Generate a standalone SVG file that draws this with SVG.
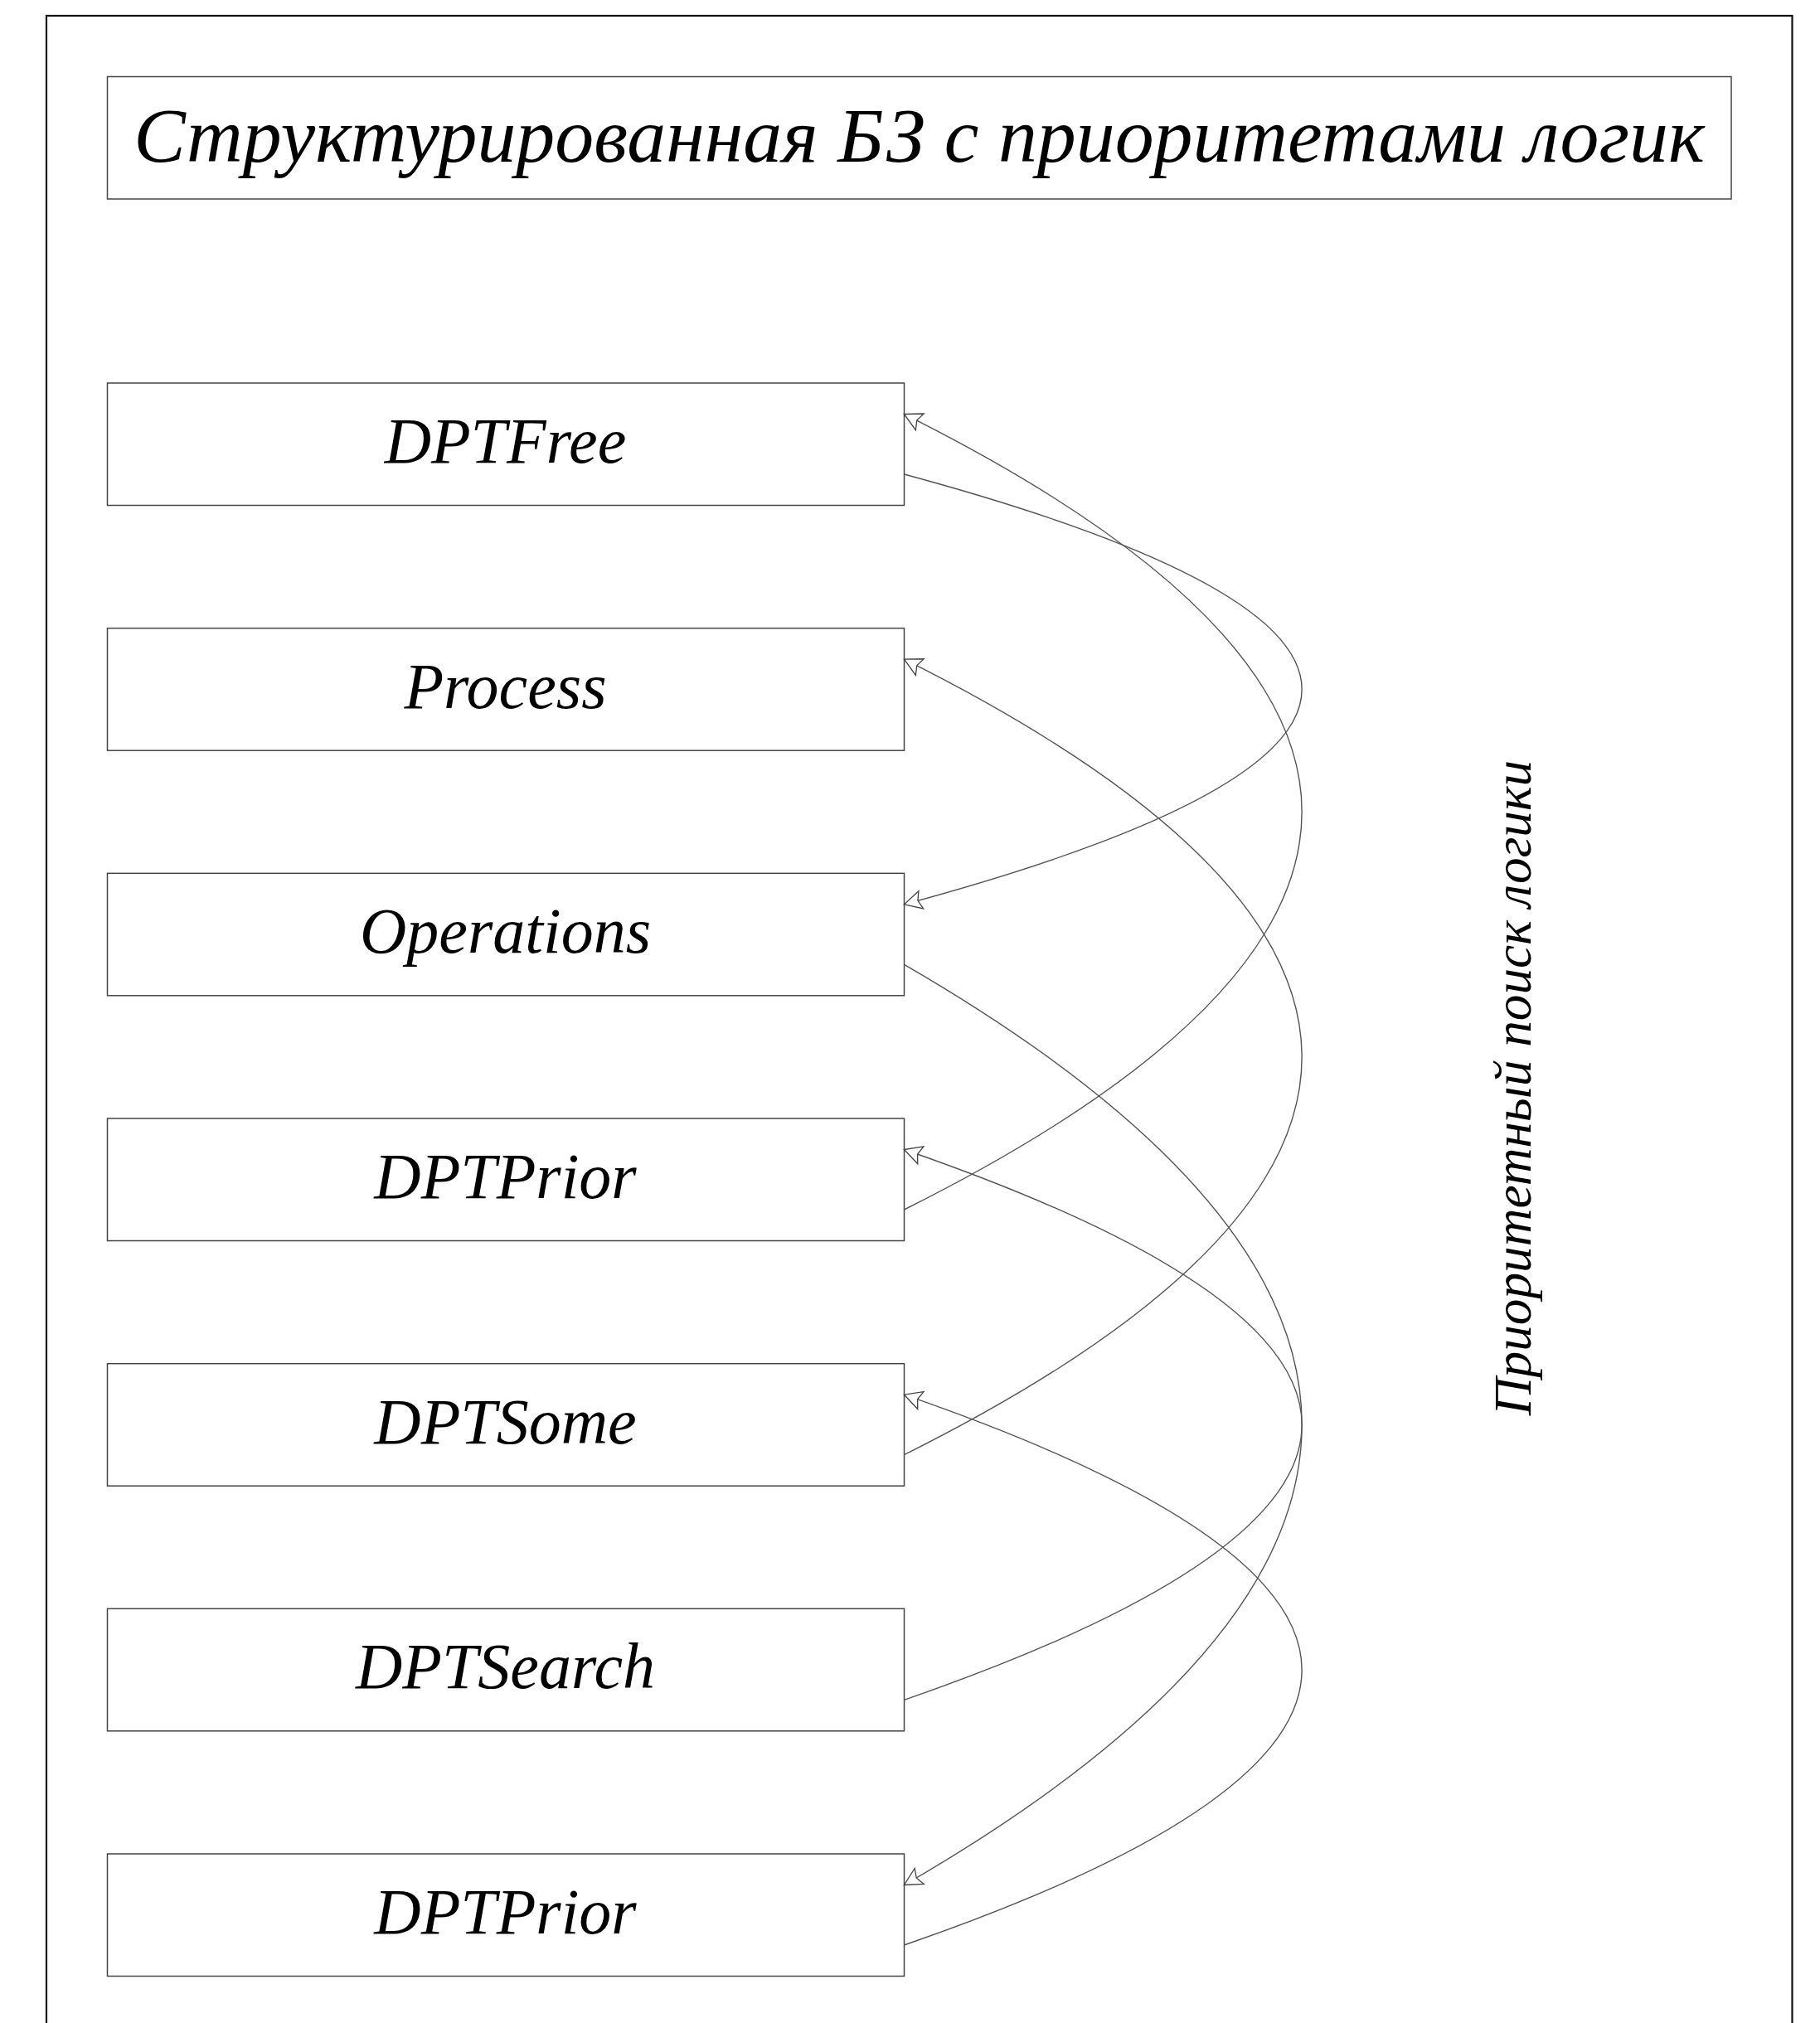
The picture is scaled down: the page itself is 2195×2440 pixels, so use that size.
<svg xmlns="http://www.w3.org/2000/svg" width="2195" height="2440" viewBox="0 0 2195 2440">
<style>
.frame{fill:none;stroke:#111;stroke-width:2.2}
.box{fill:#fff;stroke:#444;stroke-width:1.5}
.lbl{font-family:"Liberation Serif","Times New Roman",serif;font-style:italic;fill:#000;text-anchor:middle}
.node{font-size:78px}
.conn{fill:none;stroke:#555;stroke-width:1.4}
</style>
<defs>
<marker id="arr" viewBox="-25 -15 30 30" markerWidth="30" markerHeight="30" refX="0" refY="0" orient="auto" markerUnits="userSpaceOnUse">
<path d="M0,0 L-21,-11 L-17,0 L-21,11 Z" fill="#fff" stroke="#444" stroke-width="1.3" stroke-linejoin="miter"/>
</marker>
</defs>
<rect width="2195" height="2440" fill="#fff"/>
<rect class="frame" x="56" y="19" width="2105.5" height="2460"/>
<g id="title">
<rect class="box" x="129.5" y="92.5" width="1958.5" height="147.5"/>
<text class="lbl" x="1108.5" y="195" font-size="93.8">Структурированная БЗ с приоритетами логик</text>
</g>
<g id="n_dptfree">
<rect class="box" x="129.5" y="462" width="961" height="147.5"/>
<text class="lbl node" x="609.5" y="558">DPTFree</text>
</g>
<g id="n_process">
<rect class="box" x="129.5" y="757.7" width="961" height="147.5"/>
<text class="lbl node" x="609.5" y="853.7">Process</text>
</g>
<g id="n_operations">
<rect class="box" x="129.5" y="1053.3" width="961" height="147.5"/>
<text class="lbl node" x="609.5" y="1149.3">Operations</text>
</g>
<g id="n_dptprior1">
<rect class="box" x="129.5" y="1349" width="961" height="147.5"/>
<text class="lbl node" x="609.5" y="1445">DPTPrior</text>
</g>
<g id="n_dptsome">
<rect class="box" x="129.5" y="1644.7" width="961" height="147.5"/>
<text class="lbl node" x="609.5" y="1740.7">DPTSome</text>
</g>
<g id="n_dptsearch">
<rect class="box" x="129.5" y="1940.3" width="961" height="147.5"/>
<text class="lbl node" x="609.5" y="2036.3">DPTSearch</text>
</g>
<g id="n_dptprior2">
<rect class="box" x="129.5" y="2236" width="961" height="147.5"/>
<text class="lbl node" x="609.5" y="2332">DPTPrior</text>
</g>
<g id="side_label">
<text class="lbl" x="0" y="0" font-size="63.3" transform="translate(1846,1312) rotate(-90)">Приоритетный поиск логики</text>
</g>
<g id="connectors">
<path class="conn" marker-end="url(#arr)" d="M1090.5,572 C1730,744.9 1730,917.9 1090.5,1090.8"/>
<path class="conn" marker-end="url(#arr)" d="M1090.5,1459 C1730,1139.2 1730,819.3 1090.5,499.5"/>
<path class="conn" marker-end="url(#arr)" d="M1090.5,1163.3 C1730,1533.4 1730,1903.4 1090.5,2273.5"/>
<path class="conn" marker-end="url(#arr)" d="M1090.5,1754.7 C1730,1434.9 1730,1115 1090.5,795.2"/>
<path class="conn" marker-end="url(#arr)" d="M1090.5,2050.3 C1730,1829 1730,1607.8 1090.5,1386.5"/>
<path class="conn" marker-end="url(#arr)" d="M1090.5,2346 C1730,2124.7 1730,1903.5 1090.5,1682.2"/>
</g>
</svg>
